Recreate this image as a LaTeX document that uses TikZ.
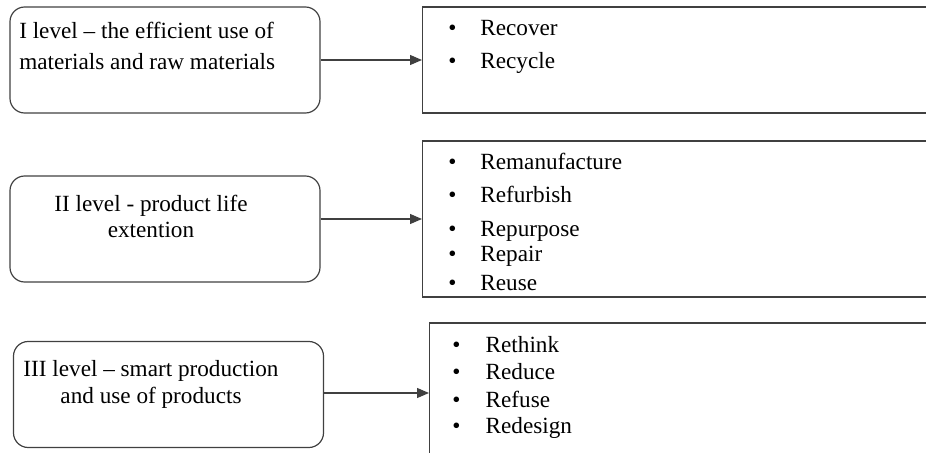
\documentclass[tikz,border=0pt]{standalone}
\usepackage{fontspec}
\setmainfont{Liberation Serif}
\usetikzlibrary{arrows.meta}

\begin{document}
\begin{tikzpicture}[x=0.75pt,y=-0.75pt,
        levelbox/.style={draw=black!75, line width=0.9pt, rounded corners=11pt,
            minimum width=232.5pt, minimum height=79.5pt, inner sep=0pt},
        listbox/.style={draw=black!75, line width=0.9pt, anchor=west,
            minimum width=390pt, inner sep=0pt},
        txt/.style={font=\fontsize{17.4pt}{21pt}\selectfont, inner sep=0pt, anchor=base},
        link/.style={draw=black!75, line width=0.9pt, -{Triangle[length=9pt,width=7.5pt]}}]
    \clip (0,0) rectangle (926,453);

    \node[levelbox] (lone)   at (165,60) {};
    \node[levelbox] (ltwo)   at (165,229) {};
    \node[levelbox] (lthree) at (168.5,394.5) {};

    \node[listbox, minimum height=79.5pt] (rone)   at (422,60) {};
    \node[listbox, minimum height=117pt]  (rtwo)   at (422,219) {};
    \node[listbox, minimum height=105pt]  (rthree) at (429,393) {};

    \node[txt, anchor=base west] (tonea) at (19,39) {I level -- the efficient use of};
    \node[txt, anchor=base west] (toneb) at (19,70) {materials and raw materials};
    \node[txt] (ttwoa)   at (151,212) {II level - product life};
    \node[txt] (ttwob)   at (151,238) {extention};
    \node[txt] (tthreea) at (151,376) {III level -- smart production};
    \node[txt] (tthreeb) at (151,403) {and use of products};

    \foreach \item/\ypos [count=\i] in {Recover/36, Recycle/69}
        \node[txt, anchor=base west] (ione\i) at (448,\ypos) {\textbullet\hspace{18pt}\item};
    \foreach \item/\ypos [count=\i] in {Remanufacture/170, Refurbish/203, Repurpose/237, Repair/262, Reuse/290}
        \node[txt, anchor=base west] (itwo\i) at (448,\ypos) {\textbullet\hspace{18pt}\item};
    \foreach \item/\ypos [count=\i] in {Rethink/352, Reduce/379, Refuse/407, Redesign/433}
        \node[txt, anchor=base west] (ithree\i) at (452,\ypos) {\textbullet\hspace{19pt}\item};

    \draw[link] (lone.east) -- (rone.west);
    \draw[link] (ltwo.east |- rtwo.west) -- (rtwo.west);
    \draw[link] (lthree.east |- rthree.west) -- (rthree.west);
\end{tikzpicture}
\end{document}
